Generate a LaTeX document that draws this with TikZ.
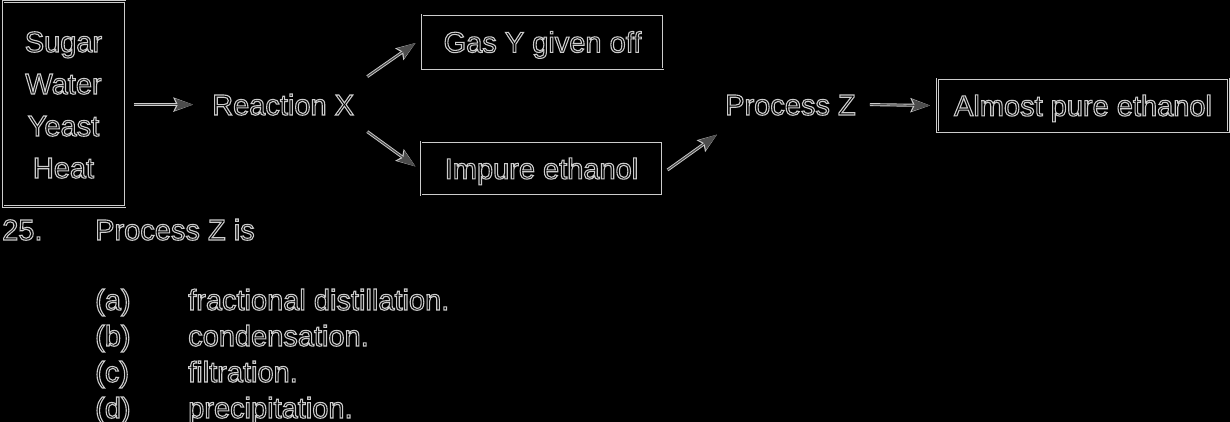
\documentclass[tikz,border=0pt]{standalone}
\usepackage{fontspec}
\setmainfont{Liberation Sans}
\usetikzlibrary{arrows.meta}
\definecolor{lite}{gray}{0.8}
\definecolor{ink}{gray}{0.3}
% glyphs filled black and stroked with a light rim
\newcommand\rimtext{\special{pdf:literal direct 2 Tr 1.1 w 0.8 G}}
\begin{document}
\begin{tikzpicture}[x=1pt,y=-1pt,
  txt/.style={inner sep=0pt,font=\fontsize{29}{35}\selectfont\rimtext},
  lbl/.style={txt,anchor=base west},
  mid/.style={txt,text height=20.8pt,text depth=0pt},
  boxed/.style={mid,preaction={draw=lite,line width=2.8pt},draw=black,line width=1pt,minimum height=54pt},
  arr/.style={preaction={draw=lite,line width=3pt,-{Stealth[length=19.5pt,width=14pt,inset=3pt]}},
    draw=ink,line width=1.2pt,-{Stealth[length=18pt,width=12pt,inset=3pt,fill=ink]}}]
\useasboundingbox (0,0) rectangle (1230,422);
\fill[black] (0,0) rectangle (1230,422);

% ingredients box
\node[boxed,minimum width=122pt,minimum height=205pt] (inbox) at (64,104) {};
\node[txt,anchor=base] (sugar) at (63.5,52) {Sugar};
\node[txt,anchor=base] (water) at (63.5,94) {Water};
\node[txt,anchor=base] (yeast) at (63.5,136) {Yeast};
\node[txt,anchor=base] (heat) at (63.5,178) {Heat};

% flow
\node[mid,anchor=west] (rx) at (212,104.6) {Reaction X};
\node[boxed,minimum width=241pt] (gas) at (542.5,42) {Gas Y given off};
\node[boxed,minimum width=241pt,minimum height=53pt] (imp) at (541.5,168.5) {Impure ethanol};
\node[mid,anchor=west] (pz) at (725,104.6) {Process Z};
\node[boxed,minimum width=291pt,minimum height=53pt] (alm) at (1083,105.5) {Almost pure ethanol};

\draw[arr] ([xshift=8pt]inbox.east |- rx.west) -- ([xshift=-19pt]rx.west);
\draw[arr] ([shift={(13,-28)}]rx.east) -- ([shift={(-6,1)}]gas.west);
\draw[arr] ([shift={(13,27)}]rx.east) -- ([shift={(-5,-2)}]imp.west);
\draw[arr] ([shift={(5,1.5)}]imp.east) -- ([shift={(-8,30)}]pz.west);
\draw[arr] ([xshift=14pt]pz.east) -- ([xshift=-7pt]alm.west);

% question
\node[lbl] (qn) at (2,240) {25.};
\node[lbl] (qt) at (95,240) {Process Z is};
\node[lbl] (ka) at (95,310) {(a)};
\node[lbl] (oa) at (188,310) {fractional distillation.};
\node[lbl] (kb) at (95,346) {(b)};
\node[lbl] (ob) at (188,346) {condensation.};
\node[lbl] (kc) at (95,382) {(c)};
\node[lbl] (oc) at (188,382) {filtration.};
\node[lbl] (kd) at (95,418) {(d)};
\node[lbl] (od) at (188,418) {precipitation.};
\end{tikzpicture}
\end{document}
